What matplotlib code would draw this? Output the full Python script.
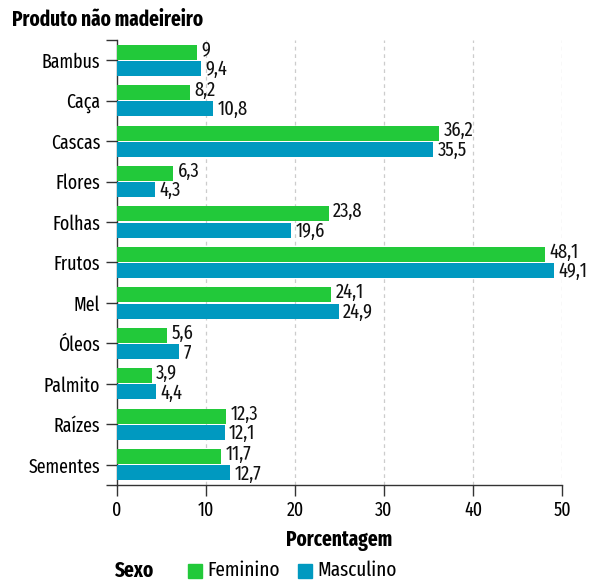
import matplotlib
matplotlib.use("Agg")
import matplotlib.pyplot as plt
import numpy as np
from matplotlib.patches import Rectangle

categories = ["Bambus", "Caça", "Cascas", "Flores", "Folhas", "Frutos", "Mel",
              "Óleos", "Palmito", "Raízes", "Sementes"]
feminino = [9, 8.2, 36.2, 6.3, 23.8, 48.1, 24.1, 5.6, 3.9, 12.3, 11.7]
masculino = [9.4, 10.8, 35.5, 4.3, 19.6, 49.1, 24.9, 7, 4.4, 12.1, 12.7]
xticks = [0, 10, 20, 30, 40, 50]

GREEN = "#22c93a"
BLUE = "#0099c0"

FONT = ["Fira Sans Extra Condensed", "Fira Sans Condensed", "DejaVu Sans"]
plt.rcParams["font.family"] = FONT

fig = plt.figure(figsize=(5.93, 5.8), dpi=100)
ax = fig.add_axes([117/593, 1-485/580, (562-117)/593, (485-40)/580])

y = np.arange(len(categories))
h = 0.37
off = 0.2
ax.barh(y - off, feminino, height=h, color=GREEN, zorder=3)
ax.barh(y + off, masculino, height=h, color=BLUE, zorder=3)

def fmt(v):
    s = f"{v:g}"
    return s.replace(".", ",")

FS = 14
VFS = 14.5
for yi, f, m in zip(y, feminino, masculino):
    ax.text(f + 0.5, yi - off + h/2 - 0.1, fmt(f), va="baseline", ha="left", fontsize=VFS, color="#111")
    ax.text(m + 0.5, yi + off + h/2 - 0.02, fmt(m), va="baseline", ha="left", fontsize=VFS, color="#111")

ylo, yhi = len(categories) - 0.5, -0.5
ax.set_ylim(ylo, yhi)
ax.set_xlim(0, 50)
ax.set_yticks(y)
ax.set_yticklabels(categories, fontsize=FS)
ax.set_yticks([ylo, yhi], minor=True)
ax.set_xticks(xticks)
ax.set_xticklabels([str(t) for t in xticks], fontsize=FS)
ax.tick_params(axis="both", which="both", length=8, width=1, color="#333", pad=3)
ax.tick_params(axis="y", which="both", length=8, pad=4)
for t in xticks[1:]:
    ax.axvline(t, color="#cccccc", linestyle=(0, (3, 3)), linewidth=0.9, zorder=1)
for s in ["top", "right"]:
    ax.spines[s].set_visible(False)
for s in ["left", "bottom"]:
    ax.spines[s].set_color("#333")
    ax.spines[s].set_linewidth(1)

BFS = 15
fig.text(12/593, 1-20/580, "Produto não madeireiro", fontsize=BFS, fontweight="bold",
         va="center", ha="left")
fig.text(339/593, 1-540/580, "Porcentagem", fontsize=BFS, fontweight="bold",
         va="center", ha="center")
fig.text(115/593, 1-577/580, "Sexo", fontsize=BFS, fontweight="bold", va="baseline", ha="left")

for x0, lab, c in [(188, "Feminino", GREEN), (298, "Masculino", BLUE)]:
    fig.patches.append(Rectangle((x0/593, 1-578/580), 14/593, 14/580,
                                 transform=fig.transFigure, color=c))
    fig.text((x0+19)/593, 1-576/580, lab, fontsize=15, va="baseline", ha="left")

fig.savefig("out.png", dpi=100)
